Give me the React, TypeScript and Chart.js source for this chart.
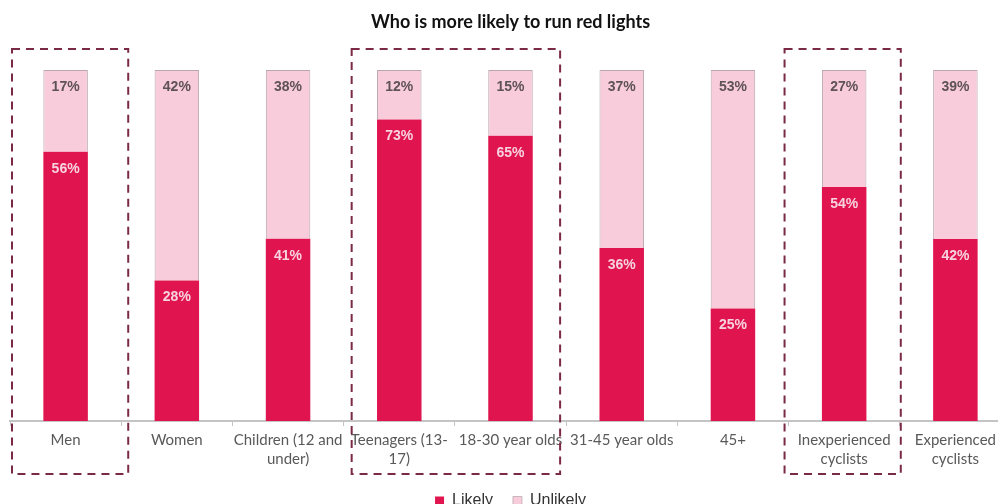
import React, { useEffect, useRef } from "react";
import { Chart, registerables } from "chart.js";

Chart.register(...registerables);

const categories: (string | string[])[] = [
  "Men",
  "Women",
  ["Children (12 and", "under)"],
  ["Teenagers (13-", "17)"],
  "18-30 year olds",
  "31-45 year olds",
  "45+",
  ["Inexperienced", "cyclists"],
  ["Experienced", "cyclists"],
];
const likely = [56, 28, 41, 73, 65, 36, 25, 54, 42];
const unlikely = [17, 42, 38, 12, 15, 37, 53, 27, 39];
// highlighted groups: [first category, last category]
const highlightGroups: [number, number][] = [
  [0, 0],
  [3, 4],
  [7, 7],
];

const LIKELY_COLOR = "#E0144F";
const UNLIKELY_COLOR = "#F9CCDB";

const share = (a: number[], b: number[]) => a.map((v, i) => (v / (v + b[i])) * 100);

export default function App() {
  const ref = useRef<HTMLCanvasElement>(null);
  useEffect(() => {
    document.body.style.margin = "0";
    document.body.style.overflow = "hidden";
    document.documentElement.style.overflow = "hidden";
    const raw = [likely, unlikely];
    const valueLabels = {
      id: "valueLabels",
      afterDatasetsDraw(chart: any) {
        const ctx = chart.ctx;
        ctx.save();
        ctx.font = "bold 14px 'Liberation Sans', Arial, sans-serif";
        ctx.textAlign = "center";
        ctx.textBaseline = "middle";
        chart.data.datasets.forEach((ds: any, di: number) => {
          const meta = chart.getDatasetMeta(di);
          meta.data.forEach((bar: any, i: number) => {
            ctx.fillStyle = di === 0 ? "#F7D3DF" : "#5E5257";
            ctx.fillText(raw[di][i] + "%", bar.x, bar.y + 17);
          });
        });
        ctx.restore();
      },
    };
    const boxOffsets: [number, number][] = [
      [2, 7],
      [8, -6],
      [-4, 1],
    ];
    const highlight = {
      id: "highlight",
      afterDraw(chart: any) {
        const ctx = chart.ctx;
        const x = chart.scales.x;
        const area = chart.chartArea;
        ctx.save();
        ctx.strokeStyle = "#7B2A45";
        ctx.lineWidth = 2;
        ctx.setLineDash([8, 6]);
        highlightGroups.forEach(([a, b], k) => {
          const left = x.getPixelForValue(a - 0.5) + boxOffsets[k][0];
          const right = x.getPixelForValue(b + 0.5) + boxOffsets[k][1];
          const top = area.top - 21;
          const bottom = area.bottom + 53;
          ctx.strokeRect(left, top, right - left, bottom - top);
        });
        ctx.restore();
      },
    };
    const chart = new Chart(ref.current!, {
      type: "bar",
      data: {
        labels: categories,
        datasets: [
          {
            label: "Likely",
            data: share(likely, unlikely),
            backgroundColor: LIKELY_COLOR,
            borderColor: "#B9123F",
            borderWidth: 0,
          },
          {
            label: "Unlikely",
            data: share(unlikely, likely),
            backgroundColor: UNLIKELY_COLOR,
            borderColor: "#B8A7AE",
            borderWidth: { top: 1, left: 1, right: 1, bottom: 0 },
          },
        ],
      },
      options: {
        animation: false,
        responsive: true,
        maintainAspectRatio: false,
        datasets: { bar: { barPercentage: 0.4, categoryPercentage: 1 } },
        layout: { padding: { left: 10, right: 1, top: 0, bottom: 0 } },
        scales: {
          x: {
            stacked: true,
            offset: true,
            grid: {
              offset: true,
              drawOnChartArea: false,
              drawTicks: true,
              tickLength: 5,
              color: "#C4C4C4",
            },
            border: { display: true, color: "#C4C4C4", width: 2 },
            ticks: {
              autoSkip: false,
              maxRotation: 0,
              minRotation: 0,
              padding: 4,
              color: "#595959",
              font: { family: "Lato, 'Open Sans', sans-serif", size: 15, lineHeight: 1.3 },
            },
          },
          y: { stacked: true, display: false, min: 0, max: 100 },
        },
        plugins: {
          title: {
            display: true,
            text: "Who is more likely to run red lights",
            color: "#111111",
            font: { family: "Lato, 'Open Sans', sans-serif", size: 18, weight: "bold", lineHeight: 1.2 },
            padding: { top: 11.2, bottom: 37.2 },
          },
          legend: {
            display: true,
            position: "bottom",
            labels: {
              boxWidth: 9,
              boxHeight: 9,
              padding: 20,
              color: "#333333",
              font: { family: "'Liberation Sans', Arial, sans-serif", size: 16 },
            },
          },
          tooltip: { enabled: false },
        },
      },
      plugins: [valueLabels, highlight],
    });
    return () => chart.destroy();
  }, []);
  return (
    <div style={{ position: "relative", width: 1012, height: 519, background: "#fff" }}>
      <canvas ref={ref} />
    </div>
  );
}
